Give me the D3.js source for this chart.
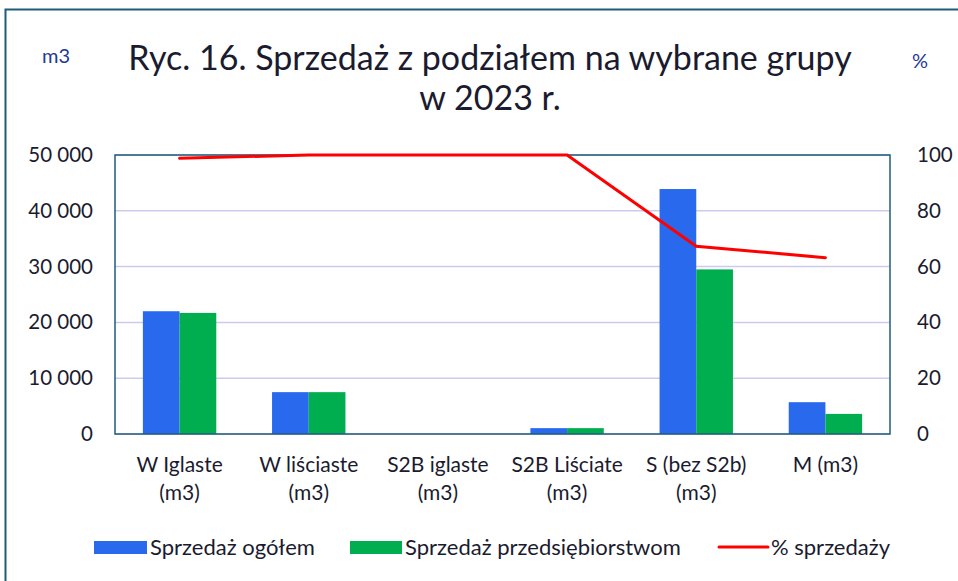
<!DOCTYPE html>
<html>
<head>
<meta charset="utf-8">
<script src="https://cdn.jsdelivr.net/npm/d3@7"></script>
<style>
  body { margin: 0; background: #fff; }
  svg { font-family: Lato, "Open Sans", sans-serif; }
</style>
</head>
<body>
<svg id="chart" width="958" height="581"></svg>
<script>
// data
const categories = [["W Iglaste", "(m3)"], ["W liściaste", "(m3)"], ["S2B iglaste", "(m3)"],
  ["S2B Liściate", "(m3)"], ["S (bez S2b)", "(m3)"], ["M (m3)"]];
const salesTotal = [22000, 7500, 0, 1050, 43900, 5700];
const salesCompanies = [21700, 7500, 0, 1050, 29500, 3600];
const salesPercent = [98.8, 100, 100, 100, 67.3, 63.2];
const leftTicks = [0, 10000, 20000, 30000, 40000, 50000];
const rightTicks = [0, 20, 40, 60, 80, 100];

const svg = d3.select("#chart");
const margins = { top: 155, right: 68, bottom: 147, left: 115 };
const width = 958 - margins.left - margins.right;
const height = 581 - margins.top - margins.bottom;
const textColor = "#1b1b2f";

// outer frame
svg.append("path")
    .attr("d", "M5.5,581 V9.5 H958")
    .attr("fill", "none")
    .attr("stroke", "#1f5c7a")
    .attr("stroke-width", 2);

// title
svg.append("text").attr("x", 490).attr("y", 70).attr("text-anchor", "middle")
    .attr("font-size", 34).attr("fill", textColor)
    .text("Ryc. 16. Sprzedaż z podziałem na wybrane grupy");
svg.append("text").attr("x", 490).attr("y", 110).attr("text-anchor", "middle")
    .attr("font-size", 34).attr("fill", textColor)
    .text("w 2023 r.");
svg.append("text").attr("x", 56).attr("y", 63).attr("text-anchor", "middle")
    .attr("font-size", 20).attr("fill", "#1f3a93").text("m3");
svg.append("text").attr("x", 920).attr("y", 68).attr("text-anchor", "middle")
    .attr("font-size", 20).attr("fill", "#1f3a93").text("%");

let chartArea = svg.append("g")
    .attr("transform", "translate(" + margins.left + ", " + margins.top + ")");

// scales
const xScale = d3.scaleBand().domain(d3.range(categories.length)).range([0, width]);
const innerScale = d3.scaleBand().domain([0, 1]).range([0, xScale.bandwidth()]).paddingOuter(0.76);
const yScale = d3.scaleLinear().domain([0, 50000]).range([height, 0]);
const pctScale = d3.scaleLinear().domain([0, 100]).range([height, 0]);

// gridlines
chartArea.append("g")
    .selectAll("line")
    .data(leftTicks)
    .join("line")
    .attr("x1", 0).attr("x2", width)
    .attr("y1", d => yScale(d)).attr("y2", d => yScale(d))
    .attr("stroke", "#cdcaee")
    .attr("stroke-width", 1.5);

// bars
const series = [
  { values: salesTotal, color: "#2969ee" },
  { values: salesCompanies, color: "#00ae4f" }
];
series.forEach(function (s, si) {
    chartArea.append("g")
        .selectAll("rect")
        .data(s.values)
        .join("rect")
        .attr("x", (d, i) => xScale(i) + innerScale(si))
        .attr("width", innerScale.bandwidth())
        .attr("y", d => yScale(d))
        .attr("height", d => height - yScale(d))
        .attr("fill", s.color);
});

// plot frame
chartArea.append("rect")
    .attr("width", width).attr("height", height)
    .attr("fill", "none")
    .attr("stroke", "#1f5c7a")
    .attr("stroke-width", 1.5);

// line
const line = d3.line()
    .x((d, i) => xScale(i) + xScale.bandwidth() / 2)
    .y(d => pctScale(d));
chartArea.append("path")
    .datum(salesPercent)
    .attr("d", line)
    .attr("fill", "none")
    .attr("stroke", "#ff0000")
    .attr("stroke-width", 3)
    .attr("stroke-linecap", "round");

// axes
const fmt = d => d3.format(",")(d).replace(/,/g, " ");
const yAxis = d3.axisLeft(yScale).tickValues(leftTicks).tickFormat(fmt).tickSize(0).tickPadding(22);
const pAxis = d3.axisRight(pctScale).tickValues(rightTicks).tickSize(0).tickPadding(27);
const leftG = chartArea.append("g").call(yAxis);
const rightG = chartArea.append("g").attr("transform", "translate(" + width + ",0)").call(pAxis);
[leftG, rightG].forEach(function (g) {
    g.select(".domain").remove();
    g.selectAll("text").attr("font-size", 20.5).attr("fill", textColor)
        .attr("font-family", "Lato, sans-serif");
});

// x labels
categories.forEach(function (lines, i) {
    const t = chartArea.append("text")
        .attr("x", xScale(i) + xScale.bandwidth() / 2)
        .attr("y", height + 38)
        .attr("text-anchor", "middle")
        .attr("font-size", 21)
        .attr("fill", textColor);
    lines.forEach(function (l, j) {
        t.append("tspan").attr("x", xScale(i) + xScale.bandwidth() / 2)
            .attr("dy", j === 0 ? 0 : 28).text(l);
    });
});

// legend
const legend = svg.append("g").attr("font-size", 22).attr("fill", textColor);
legend.append("rect").attr("x", 94).attr("y", 541).attr("width", 53).attr("height", 13).attr("fill", "#2969ee");
legend.append("text").attr("x", 150).attr("y", 555).text("Sprzedaż ogółem");
legend.append("rect").attr("x", 350).attr("y", 541).attr("width", 52).attr("height", 13).attr("fill", "#00ae4f");
legend.append("text").attr("x", 405).attr("y", 555).text("Sprzedaż przedsiębiorstwom");
legend.append("line").attr("x1", 719).attr("x2", 768).attr("y1", 547).attr("y2", 547)
    .attr("stroke", "#ff0000").attr("stroke-width", 3).attr("stroke-linecap", "round");
legend.append("text").attr("x", 771).attr("y", 555).text("% sprzedaży");
</script>
</body>
</html>
